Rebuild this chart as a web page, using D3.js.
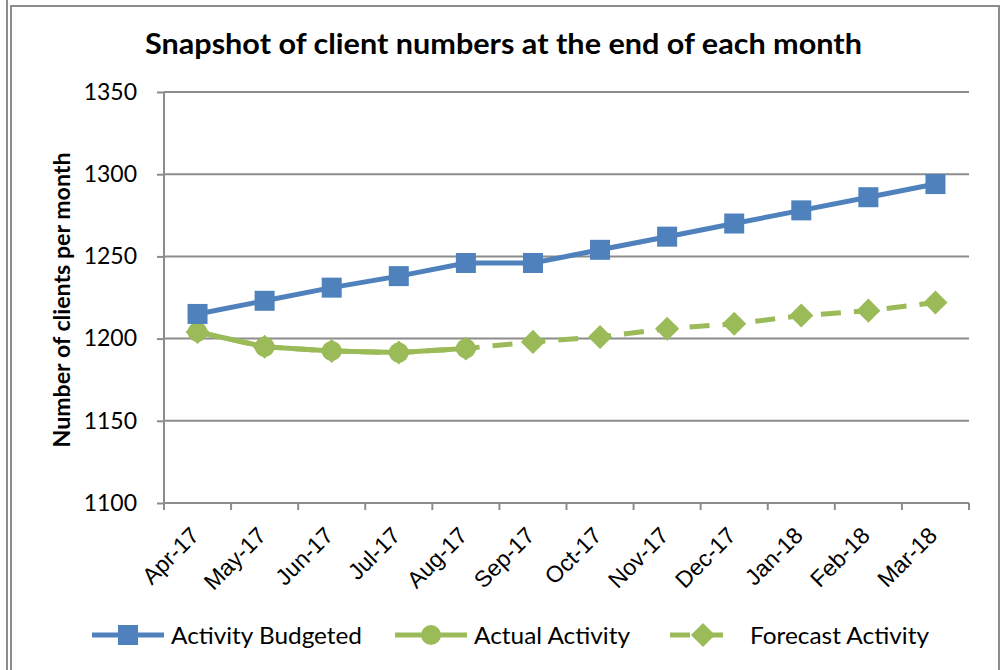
<!DOCTYPE html>
<html><head><meta charset="utf-8">
<script src="https://cdn.jsdelivr.net/npm/d3@7"></script>
<style>
html,body{margin:0;padding:0;background:#fff;}
svg{display:block;font-family:Lato,"Noto Sans",sans-serif;}
</style></head>
<body>
<svg id="chart" width="1005" height="670"></svg>
<script>
const months = ["Apr-17","May-17","Jun-17","Jul-17","Aug-17","Sep-17","Oct-17","Nov-17","Dec-17","Jan-18","Feb-18","Mar-18"];
const budgeted = [1215,1223,1231,1238,1246,1246,1254,1262,1270,1278,1286,1294];
const actual = [1204,1195,1192.5,1191.5,1194,null,null,null,null,null,null,null];
const forecast = [1204,1195,1192.5,1191.5,1194,1198,1201,1206,1209,1214,1217,1222];
const yTicks = [1100,1150,1200,1250,1300,1350];
const seriesNames = ["Activity Budgeted","Actual Activity","Forecast Activity"];
const titleText = "Snapshot of client numbers at the end of each month";
const yLabel = "Number of clients per month";

const blue = "#4F81BD", green = "#9BBB59", grid = "#8c8c8c";
const svg = d3.select("#chart");

// frame
svg.append("line").attr("x1",7).attr("x2",7).attr("y1",0).attr("y2",670).attr("stroke",grid).attr("stroke-width",2);
svg.append("path").attr("d","M11,670V6H999V670").attr("fill","none").attr("stroke",grid).attr("stroke-width",2);

const x = d3.scaleBand().domain(months).range([164,969]).padding(0);
const y = d3.scaleLinear().domain([1100,1350]).range([503,92]);
const cx = d => x(d) + x.bandwidth()/2;

// gridlines
svg.append("g").selectAll("line").data(yTicks.filter(t=>t>1100)).join("line")
  .attr("x1",164).attr("x2",969).attr("y1",d=>y(d)).attr("y2",d=>y(d))
  .attr("stroke",grid).attr("stroke-width",2);

// y axis
const ya = svg.append("g").attr("transform","translate(164,0)")
  .call(d3.axisLeft(y).tickValues(yTicks).tickSize(7).tickPadding(20).tickFormat(d3.format("d")));
ya.select(".domain").attr("stroke",grid).attr("stroke-width",2).attr("d","M0,92V503");
ya.selectAll(".tick line").attr("stroke",grid).attr("stroke-width",2);
ya.selectAll(".tick text").attr("font-size",23).attr("fill","#000").attr("font-family","Lato");

// x axis
const xa = svg.append("g").attr("transform","translate(0,503)")
  .call(d3.axisBottom(x).tickSize(0).tickFormat(""));
xa.select(".domain").attr("stroke",grid).attr("stroke-width",2).attr("d","M164,0H969");
const tickPos = months.map(m=>x(m)).concat([969]);
xa.append("g").selectAll("line").data(tickPos).join("line")
  .attr("x1",d=>d).attr("x2",d=>d).attr("y1",0).attr("y2",7).attr("stroke",grid).attr("stroke-width",2);
xa.append("g").selectAll("text").data(months).join("text")
  .attr("transform",d=>`translate(${cx(d)+3},${34}) rotate(-45)`)
  .attr("text-anchor","end").attr("font-size",23).attr("fill","#000").text(d=>d);

// title
svg.append("text").attr("x",145).attr("y",54)
  .attr("font-size",28).attr("font-weight","bold").attr("fill","#000")
  .attr("textLength",717).attr("lengthAdjust","spacingAndGlyphs").text(titleText);
// y label
svg.append("text").attr("transform","translate(70,300) rotate(-90)").attr("text-anchor","middle")
  .attr("font-size",22).attr("font-weight","bold").attr("fill","#000")
  .attr("textLength",295).attr("lengthAdjust","spacingAndGlyphs").text(yLabel);

const line = d3.line().defined(d=>d.v!=null).x(d=>cx(d.m)).y(d=>y(d.v));
const toPts = arr => months.map((m,i)=>({m, v:arr[i]}));

// diamond marker: rotated square
const diamond = d3.symbol().type(d3.symbolSquare).size(290);

// forecast (dashed) drawn first
svg.append("path").datum(toPts(forecast)).attr("d",line).attr("fill","none")
  .attr("stroke",green).attr("stroke-width",5).attr("stroke-dasharray","20,13");
svg.append("g").selectAll("path").data(toPts(forecast)).join("path")
  .attr("transform",d=>`translate(${cx(d.m)},${y(d.v)}) rotate(45)`).attr("d",diamond).attr("fill",green);

// actual
svg.append("path").datum(toPts(actual)).attr("d",line).attr("fill","none")
  .attr("stroke",green).attr("stroke-width",5);
svg.append("g").selectAll("circle").data(toPts(actual).filter(d=>d.v!=null)).join("circle")
  .attr("cx",d=>cx(d.m)).attr("cy",d=>y(d.v)).attr("r",10).attr("fill",green);

// budgeted
svg.append("path").datum(toPts(budgeted)).attr("d",line).attr("fill","none")
  .attr("stroke",blue).attr("stroke-width",5);
svg.append("g").selectAll("rect").data(toPts(budgeted)).join("rect")
  .attr("x",d=>cx(d.m)-10).attr("y",d=>y(d.v)-10).attr("width",20).attr("height",20).attr("fill",blue);

// legend
const lg = svg.append("g");
const legendItems = [
  {name:seriesNames[0], color:blue, x1:92, x2:164, tx:171, w:191, marker:"square", dash:null},
  {name:seriesNames[1], color:green, x1:395, x2:467, tx:474, w:156, marker:"circle", dash:null},
  {name:seriesNames[2], color:green, x1:670, x2:736, tx:750, w:179, marker:"diamond", dash:"20,13"},
];
const ly = 635;
legendItems.forEach(it=>{
  lg.append("line").attr("x1",it.x1).attr("x2",it.x2).attr("y1",ly).attr("y2",ly)
    .attr("stroke",it.color).attr("stroke-width",5).attr("stroke-dasharray",it.dash);
  const mx = (it.x1+it.x2)/2;
  if(it.marker==="square") lg.append("rect").attr("x",mx-10).attr("y",ly-10).attr("width",20).attr("height",20).attr("fill",it.color);
  if(it.marker==="circle") lg.append("circle").attr("cx",mx).attr("cy",ly).attr("r",10).attr("fill",it.color);
  if(it.marker==="diamond") lg.append("path").attr("transform",`translate(${mx},${ly}) rotate(45)`).attr("d",diamond).attr("fill",it.color);
  lg.append("text").attr("x",it.tx).attr("y",ly+9).attr("font-size",24).attr("fill","#000")
    .attr("textLength",it.w).attr("lengthAdjust","spacingAndGlyphs").text(it.name);
});
</script>
</body></html>
